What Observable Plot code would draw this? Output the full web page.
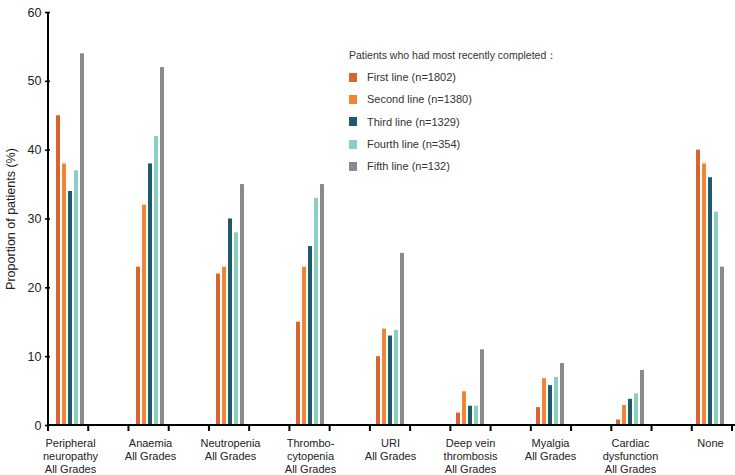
<!DOCTYPE html>
<html>
<head>
<meta charset="utf-8">
<script src="https://cdn.jsdelivr.net/npm/d3@7"></script>
<script src="https://cdn.jsdelivr.net/npm/@observablehq/plot@0.6"></script>
<style>
  html, body { margin: 0; padding: 0; background: #fff; }
  #wrap { position: relative; width: 735px; height: 475px; font-family: "Liberation Sans", Arial, sans-serif; }
  #legend { position: absolute; left: 349px; top: 47px; color: #333; }
  #legend .title { font-size: 10.5px; height: 16px; line-height: 16px; margin-bottom: 3px; white-space: nowrap; }
  #legend .item { display: flex; align-items: center; height: 22.3px; font-size: 11px; white-space: nowrap; }
  #legend .sw { width: 8px; height: 9px; margin-right: 10px; }
</style>
</head>
<body>
<div id="wrap"></div>
<script>
const categories = [
  "Peripheral\nneuropathy\nAll Grades",
  "Anaemia\nAll Grades",
  "Neutropenia\nAll Grades",
  "Thrombo-\ncytopenia\nAll Grades",
  "URI\nAll Grades",
  "Deep vein\nthrombosis\nAll Grades",
  "Myalgia\nAll Grades",
  "Cardiac\ndysfunction\nAll Grades",
  "None"
];
const seriesNames = [
  "First line (n=1802)",
  "Second line (n=1380)",
  "Third line (n=1329)",
  "Fourth line (n=354)",
  "Fifth line (n=132)"
];
const firstLine  = [45, 23, 22, 15, 10, 1.8, 2.6, 0.8, 40];
const secondLine = [38, 32, 23, 23, 14, 4.9, 6.8, 2.9, 38];
const thirdLine  = [34, 38, 30, 26, 13, 2.8, 5.8, 3.8, 36];
const fourthLine = [37, 42, 28, 33, 13.8, 2.8, 7, 4.6, 31];
const fifthLine  = [54, 52, 35, 35, 25, 11, 9, 8, 23];
const colors = ["#d9652e", "#ef8535", "#1e5b6a", "#8acfc4", "#8a8a8a"];
const yTicks = [0, 10, 20, 30, 40, 50, 60];
const yLabel = "Proportion of patients (%)";
const legendTitle = "Patients who had most recently completed：";

const seriesValues = [firstLine, secondLine, thirdLine, fourthLine, fifthLine];
const data = [];
categories.forEach((c, i) => {
  seriesNames.forEach((s, j) => data.push({cat: c, series: s, value: seriesValues[j][i]}));
});

const W = 735, H = 475, ML = 48, MR = 3, MT = 12, MB = 50;

const plot = Plot.plot({
  width: W, height: H,
  marginLeft: ML, marginRight: MR, marginTop: MT, marginBottom: MB,
  style: {fontFamily: "'Liberation Sans', Arial, sans-serif", color: "#222", background: "white", overflow: "visible"},
  fx: {domain: categories, paddingInner: 0.5, paddingOuter: 0, label: null},
  x: {domain: seriesNames, paddingInner: 0.3, paddingOuter: 0.8, axis: null},
  y: {domain: [0, 60], label: yLabel},
  color: {domain: seriesNames, range: colors},
  marks: [
    Plot.barY(data, {fx: "cat", x: "series", y: "value", fill: "series"}),
    Plot.axisY({ticks: yTicks, tickSize: 5, tickPadding: 4, fontSize: 12.5, stroke: "#000", strokeWidth: 1.6,
      label: yLabel, labelAnchor: "center", labelArrow: "none", labelOffset: 44}),
    Plot.axisFx({anchor: "bottom", tickSize: 0, tickPadding: 12, fontSize: 11, lineHeight: 1.18, label: null, fill: "#222"})
  ]
});

// Axis lines and band-edge ticks, positioned via the plot's own scales
const svg = d3.select(plot.tagName.toLowerCase() === "svg" ? plot : plot.querySelector("svg"));
const fxs = plot.scale("fx");
const ys = plot.scale("y");
const fxBand = d3.scaleBand().domain(fxs.domain).range(fxs.range)
  .paddingInner(fxs.paddingInner).paddingOuter(fxs.paddingOuter).align(fxs.align ?? 0.5);
const y0 = ys.apply(0), yTop = ys.apply(60);
const g = svg.append("g").attr("stroke", "#000");
g.append("line").attr("x1", ML).attr("x2", W).attr("y1", y0).attr("y2", y0).attr("stroke-width", 2);
g.append("line").attr("x1", ML).attr("x2", ML).attr("y1", y0 + 1).attr("y2", yTop).attr("stroke-width", 2);
fxs.domain.forEach(c => {
  const a = fxBand(c), b = a + fxBand.bandwidth();
  [a, b].forEach(x => g.append("line").attr("x1", x).attr("x2", x).attr("y1", y0).attr("y2", y0 + 6).attr("stroke-width", 2));
});

const wrap = document.getElementById("wrap");
wrap.appendChild(plot);

// Legend
const legend = document.createElement("div");
legend.id = "legend";
const t = document.createElement("div");
t.className = "title";
t.textContent = legendTitle;
legend.appendChild(t);
seriesNames.forEach((s, i) => {
  const it = document.createElement("div");
  it.className = "item";
  const sw = document.createElement("span");
  sw.className = "sw";
  sw.style.background = colors[i];
  const lab = document.createElement("span");
  lab.textContent = s;
  it.appendChild(sw); it.appendChild(lab);
  legend.appendChild(it);
});
wrap.appendChild(legend);
</script>
</body>
</html>
